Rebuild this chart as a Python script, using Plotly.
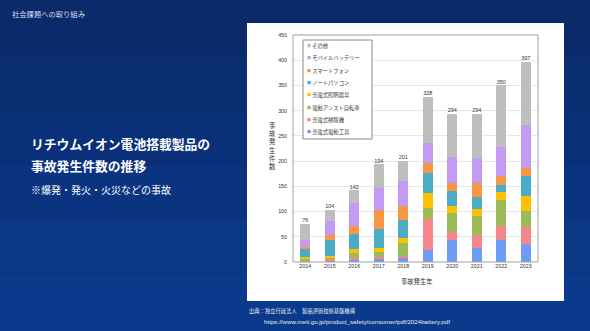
import plotly.graph_objects as go

years = ["2014", "2015", "2016", "2017", "2018", "2019", "2020", "2021", "2022", "2023"]
series_names = ["充電式電動工具", "充電式掃除機", "電動アシスト自転車", "充電式照明器具",
                "ノートパソコン", "スマートフォン", "モバイルバッテリー", "その他"]
v_tools = [1, 3, 3, 5, 9, 23, 44, 27, 43, 35]
v_cleaner = [2, 3, 5, 5, 3, 63, 16, 27, 29, 35]
v_ebike = [3, 3, 9, 9, 25, 22, 38, 37, 51, 31]
v_light = [3, 3, 8, 9, 10, 29, 14, 15, 16, 30]
v_laptop = [16, 31, 31, 37, 37, 39, 29, 22, 14, 40]
v_phone = [5, 11, 16, 39, 27, 21, 16, 28, 17, 16]
v_mobile = [13, 28, 44, 43, 49, 39, 52, 51, 57, 84]
v_other = [33, 22, 26, 47, 41, 92, 85, 87, 123, 126]
totals = [76, 104, 142, 194, 201, 328, 294, 294, 350, 397]
y_ticks = [0, 50, 100, 150, 200, 250, 300, 350, 400, 450]

series_values = [v_tools, v_cleaner, v_ebike, v_light, v_laptop, v_phone, v_mobile, v_other]
colors = ["#6E9BF5", "#F5878C", "#9BBB59", "#FFC000", "#4BACC6", "#F79646", "#C39BF3", "#BEBEBE"]

W, H = 590, 331
L, R, T, B = 293, 538, 35, 262
JP = "Noto Sans CJK JP"


def px(x):
    return (x - L) / (R - L)


def py(y):
    return (B - y) / (B - T)


fig = go.Figure()
for name, vals, c in zip(series_names, series_values, colors):
    fig.add_trace(go.Bar(x=years, y=vals, name=name, marker_color=c,
                         marker_line_width=0, showlegend=False))

fig.add_trace(go.Scatter(x=years, y=totals, mode="text", text=[str(t) for t in totals],
                         textposition="top center", showlegend=False,
                         textfont=dict(size=5.5, color="#333333", family="Liberation Sans")))

shapes = []
# background gradient approximation
bands = ["#0a2a6a", "#0a2d72", "#0a3079", "#0b3480", "#0b3787", "#0b3a8c"]
n = len(bands)
for i, c in enumerate(bands):
    shapes.append(dict(type="rect", xref="paper", yref="paper",
                       x0=px(0), x1=px(W), y0=py(H * (i + 1) / n), y1=py(H * i / n),
                       fillcolor=c, line_width=0, layer="below"))
# white panel
shapes.append(dict(type="rect", xref="paper", yref="paper",
                   x0=px(247), x1=px(564), y0=py(301), y1=py(23),
                   fillcolor="white", line_width=0, layer="below"))
# plot border
shapes.append(dict(type="rect", xref="paper", yref="paper", x0=0, x1=1, y0=0, y1=1,
                   line=dict(color="#A0A0A0", width=1), layer="above"))
# legend box
shapes.append(dict(type="rect", xref="paper", yref="paper",
                   x0=px(303), x1=px(372), y0=py(139), y1=py(40),
                   fillcolor="white", line=dict(color="#888888", width=1), layer="above"))

annotations = []
leg_y = [45.7, 58.3, 71, 83.3, 95.3, 108, 120.3, 132.3]
for yy, name, c in zip(leg_y, series_names[::-1], colors[::-1]):
    annotations.append(dict(xref="paper", yref="paper", x=px(304.5), y=py(yy),
                            xanchor="left", yanchor="middle", showarrow=False,
                            text=f'<span style="color:{c};font-size:4px">■</span> {name}',
                            font=dict(size=5.3, color="#333333", family=JP)))

annotations += [
    dict(xref="paper", yref="paper", x=px(10), y=py(14), xanchor="left", yanchor="middle",
         showarrow=False, text="社会課題への取り組み",
         font=dict(size=7.3, color="#D8DEEA", family=JP)),
    dict(xref="paper", yref="paper", x=px(29), y=py(143), xanchor="left", yanchor="middle",
         showarrow=False, text="<b>リチウムイオン電池搭載製品の</b>",
         font=dict(size=12.8, color="white", family=JP)),
    dict(xref="paper", yref="paper", x=px(29), y=py(165), xanchor="left", yanchor="middle",
         showarrow=False, text="<b>事故発生件数の推移</b>",
         font=dict(size=12.8, color="white", family=JP)),
    dict(xref="paper", yref="paper", x=px(29), y=py(189), xanchor="left", yanchor="middle",
         showarrow=False, text="※爆発・発火・火災などの事故",
         font=dict(size=10, color="white", family=JP)),
    dict(xref="paper", yref="paper", x=px(272), y=py(146), xanchor="center", yanchor="middle",
         showarrow=False, text="<br>".join("事故発生件数"),
         font=dict(size=6.3, color="#333333", family=JP)),
    dict(xref="paper", yref="paper", x=px(416), y=py(281), xanchor="center", yanchor="middle",
         showarrow=False, text="事故発生年",
         font=dict(size=6.3, color="#333333", family=JP)),
    dict(xref="paper", yref="paper", x=px(247), y=py(311), xanchor="left", yanchor="middle",
         showarrow=False, text="出典：独立行政法人　製品評価技術基盤機構",
         font=dict(size=5.3, color="#E6EAF2", family=JP)),
    dict(xref="paper", yref="paper", x=px(262), y=py(321), xanchor="left", yanchor="middle",
         showarrow=False, text="https://www.meti.go.jp/product_safety/consumer/pdf/2024battery.pdf",
         font=dict(size=6.2, color="#E6EAF2", family="Liberation Sans")),
]

fig.update_layout(
    width=W, height=H,
    margin=dict(l=L, r=W - R, t=T, b=H - B, pad=0),
    barmode="stack", bargap=0.59,
    paper_bgcolor="#0a3079", plot_bgcolor="white",
    shapes=shapes, annotations=annotations,
    xaxis=dict(type="category", showgrid=False, showline=False, ticks="",
               tickfont=dict(size=5.3, color="#333333", family="Liberation Sans")),
    yaxis=dict(range=[0, 450], tickvals=y_ticks, showgrid=True, gridcolor="#E8E8E8",
               gridwidth=1, zeroline=False, showline=False, ticks="",
               tickfont=dict(size=5.3, color="#333333", family="Liberation Sans"),
               ticklabelstandoff=5),
)

fig.write_html("out.html")
